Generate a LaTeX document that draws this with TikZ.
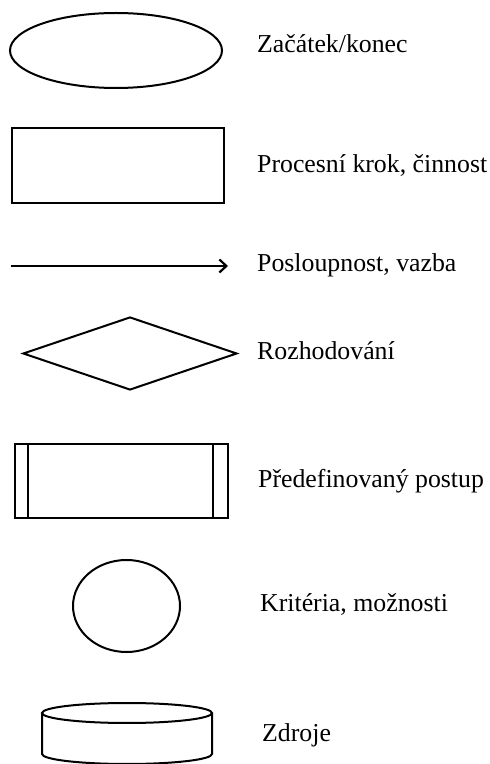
\documentclass[tikz,border=0pt]{standalone}
\usepackage{fontspec}
\setmainfont{Liberation Serif}
\usetikzlibrary{shapes.geometric,arrows.meta,calc}
\begin{document}
\begin{tikzpicture}[x=1pt,y=1pt,
  sym/.style={draw=black,line width=2pt,inner sep=0pt,fill=none},
  edge/.style={line width=2pt},
  lbl/.style={anchor=base west,inner sep=0pt,font=\fontsize{25.8pt}{30pt}\selectfont}]
\useasboundingbox (0,0) rectangle (490,764);

% start / end
\node[sym,ellipse,minimum width=212pt,minimum height=75pt] (term) at (116,713.5) {};
\node[lbl] (termL) at (257,711) {Začátek/konec};

% process step
\node[sym,rectangle,minimum width=212pt,minimum height=75pt] (proc) at (118,598.5) {};
\node[lbl] (procL) at (257,591) {Procesní krok, činnost};

% sequence arrow
\coordinate (aS) at (11,498);
\coordinate (aE) at (228,498);
\draw[edge,-{Straight Barb[length=7pt,width=13pt,line width=2.2pt]}] (aS) -- (aE);
\node[lbl] (seqL) at (257,492) {Posloupnost, vazba};

% decision
\node[sym,diamond,minimum width=214pt,minimum height=73pt] (dec) at (130,410.5) {};
\node[lbl] (decL) at (257,404) {Rozhodování};

% predefined process
\node[sym,rectangle,minimum width=213pt,minimum height=74pt] (pre) at (121.5,283) {};
\draw[edge] ($(pre.north west)+(13.5,0)$) -- ($(pre.south west)+(13.5,0)$);
\draw[edge] ($(pre.north east)+(-16.5,0)$) -- ($(pre.south east)+(-16.5,0)$);
\node[lbl] (preL) at (258,276) {Předefinovaný postup};

% criteria
\node[sym,ellipse,minimum width=107pt,minimum height=92pt] (crit) at (126.5,158) {};
\node[lbl] (critL) at (260,152) {Kritéria, možnosti};

% resources (cylinder)
\coordinate (cyl) at (127,51);
\draw[edge] (cyl) ellipse [x radius=85, y radius=10];
\draw[edge] ($(cyl)+(-85,0)$) -- ($(cyl)+(-85,-41)$)
  arc[start angle=180,end angle=360,x radius=85,y radius=10]
  -- ($(cyl)+(85,0)$);
\node[lbl] (resL) at (262,22) {Zdroje};
\end{tikzpicture}
\end{document}
